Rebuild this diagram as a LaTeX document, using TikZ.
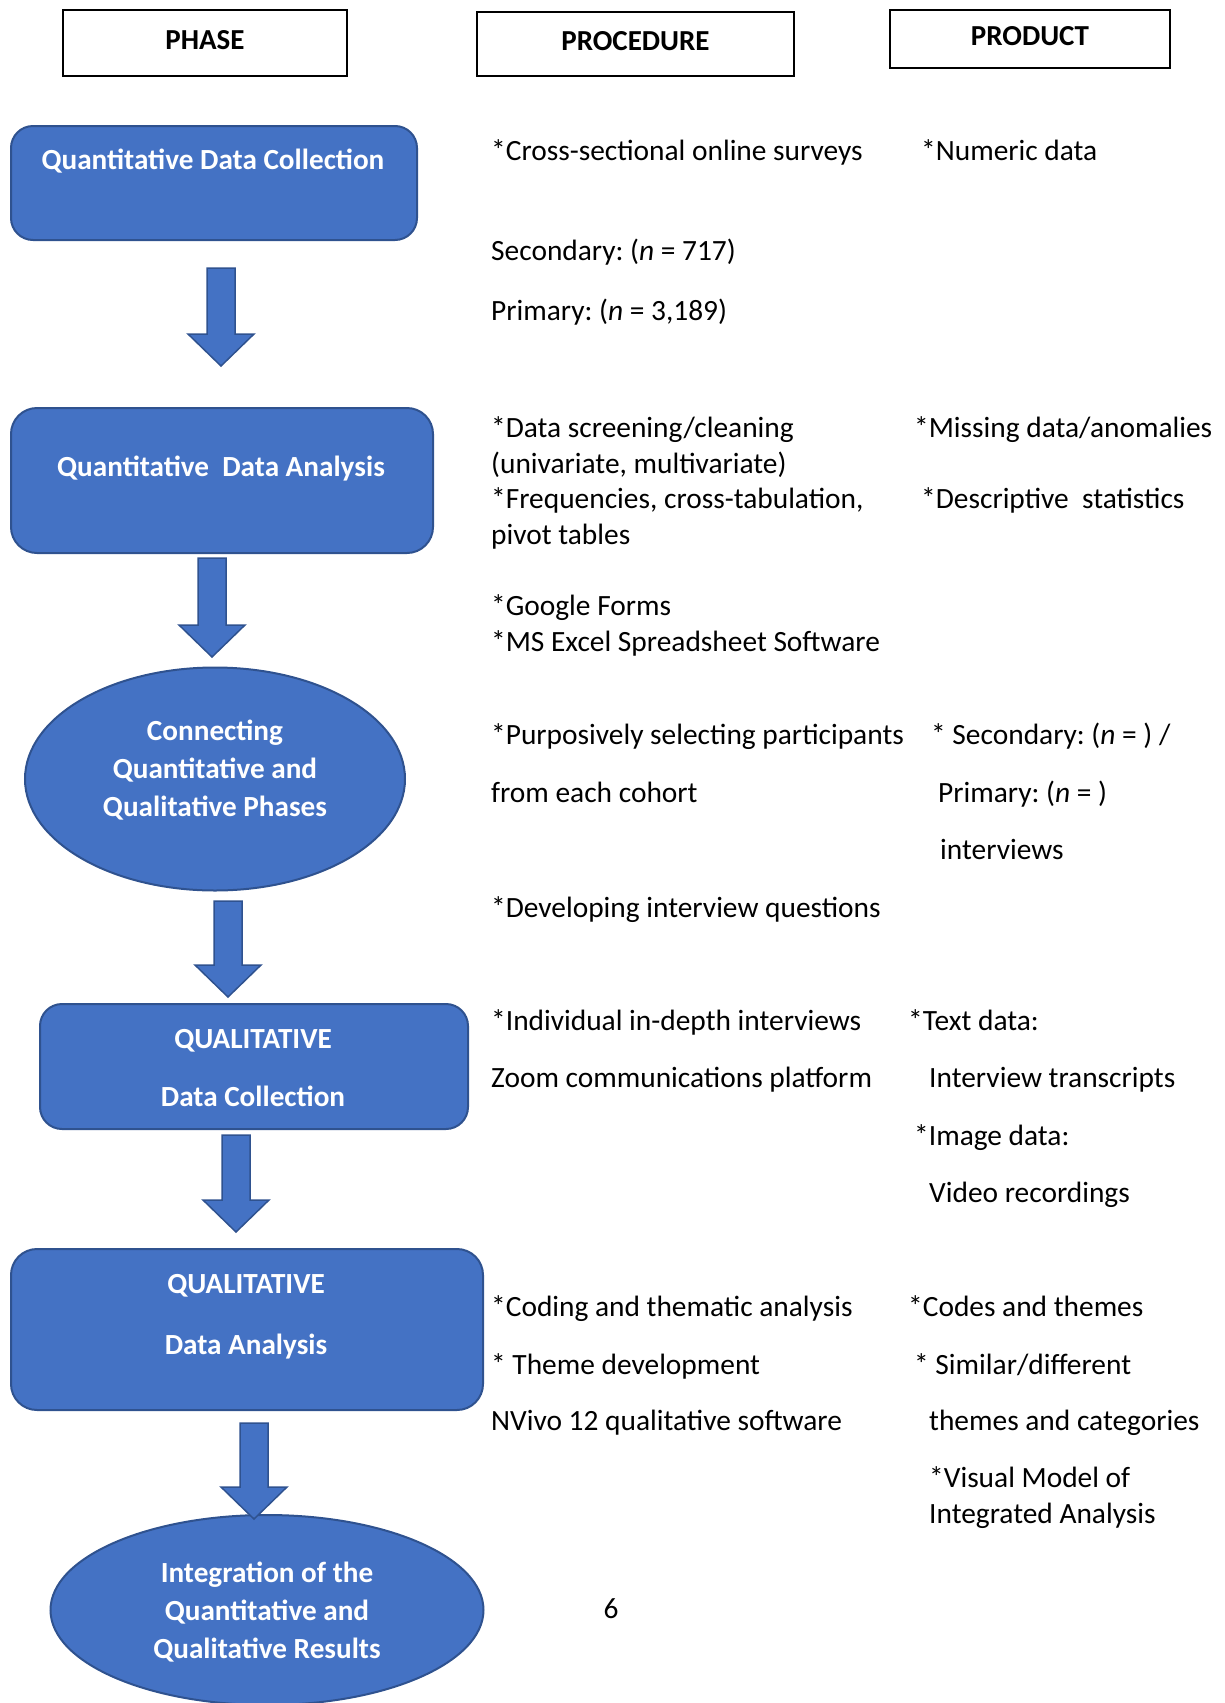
\documentclass[tikz,border=0pt]{standalone}
\usepackage{fontspec}
\setmainfont{Carlito}
\frenchspacing
\usetikzlibrary{shapes.geometric,calc,positioning}
\definecolor{phaseblue}{HTML}{4472C4}
\definecolor{phaseedge}{HTML}{2F528F}
\tikzset{
    headbox/.style={
        draw,
        line width=2pt,
        inner sep=0pt,
        anchor=north west,
        text depth=6pt,
        font=\bfseries\fontsize{29}{35}\selectfont
    },
    phasebox/.style={
        draw=phaseedge,
        fill=phaseblue,
        line width=2pt,
        rounded corners=22pt,
        inner sep=0pt,
        anchor=north west
    },
    phaseoval/.style={
        ellipse,
        draw=phaseedge,
        fill=phaseblue,
        line width=2pt,
        inner sep=0pt
    },
    phasetext/.style={
        text=white,
        align=center,
        inner sep=0pt,
        font=\bfseries\fontsize{29.2}{38}\selectfont
    },
    coltext/.style={
        anchor=base west,
        inner sep=0pt,
        font=\fontsize{29.4}{35}\selectfont
    },
    blockarrow/.style={
        draw=phaseedge,
        fill=phaseblue,
        line width=1.5pt
    }
}
\newcommand{\phasearrow}[2]{%
  \path[blockarrow] let \p1=(#1), \p2=(#2) in
    (\x1-14pt,\y1) -- (\x1+14pt,\y1) -- (\x1+14pt,\y2+32pt) -- (\x1+33pt,\y2+32pt)
    -- (\x2,\y2) -- (\x1-33pt,\y2+32pt) -- (\x1-14pt,\y2+32pt) -- cycle;}

\begin{document}
\begin{tikzpicture}[x=1pt,y=-1pt]
  \useasboundingbox (0,0) rectangle (1225,1703);

  % column heads
  \node[headbox, minimum width=284pt, minimum height=66pt] (phase) at (62,9) {PHASE};
  \node[headbox, minimum width=317pt, minimum height=64pt] (proc) at (476,11) {PROCEDURE};
  \node[headbox, minimum width=280pt, minimum height=58pt] (prod) at (889,9) {PRODUCT};

  % phases
  \node[phasebox, minimum width=406pt, minimum height=114pt] (qncoll) at (10,125) {};
  \node[phasetext] (qncolltxt) at (213,161) {Quantitative Data Collection};
  \node[phasebox, minimum width=422pt, minimum height=145pt, rounded corners=26pt] (qnana) at (10,407) {};
  \node[phasetext] (qnanatxt) at (221,469) {Quantitative\ \ Data Analysis};
  \node[phaseoval, minimum width=380pt, minimum height=223pt] (conn) at (215,779) {};
  \node[phasetext] (conntxt) at (215,770) {Connecting\\Quantitative and\\Qualitative Phases};
  \node[phasebox, minimum width=428pt, minimum height=125pt] (qlcoll) at (39,1003) {};
  \node[phasetext, font=\bfseries\fontsize{29.2}{58}\selectfont] (qlcolltxt) at (253,1068) {QUALITATIVE\\Data Collection};
  \node[phasebox, minimum width=472pt, minimum height=161pt, rounded corners=26pt] (qlana) at (10,1248) {};
  \node[phasetext, font=\bfseries\fontsize{29.2}{61}\selectfont] (qlanatxt) at (246,1317) {QUALITATIVE\\Data Analysis};
  \node[phaseoval, minimum width=433pt, minimum height=190pt] (integ) at (267,1610) {};
  \node[phasetext] (integtxt) at (267,1612) {Integration of the\\Quantitative and\\Qualitative Results};

  % arrows between phases
  \coordinate (a1t) at (221,268);  \coordinate (a1b) at (221,366);
  \coordinate (a2t) at (212,558);  \coordinate (a2b) at (212,657);
  \coordinate (a3t) at (228,901);  \coordinate (a3b) at (228,997);
  \coordinate (a4t) at (236,1135); \coordinate (a4b) at (236,1232);
  \coordinate (a5t) at (254,1423); \coordinate (a5b) at (254,1519);
  \foreach \s/\t in {a1t/a1b,a2t/a2b,a3t/a3b,a4t/a4b,a5t/a5b}
    \phasearrow{\s}{\t};

  % procedure
  \node[coltext] (p1) at (491,160) {*Cross-sectional online surveys};
  \node[coltext] (p2) at (491,260) {Secondary: (\textit{n} = 717)};
  \node[coltext] (p3) at (491,320) {Primary: (\textit{n} = 3,189)};
  \node[coltext] (p4) at (491,437) {*Data screening/cleaning};
  \node[coltext] (p5) at (491,473) {(univariate, multivariate)};
  \node[coltext] (p6) at (491,508) {*Frequencies, cross-tabulation,};
  \node[coltext] (p7) at (491,544) {pivot tables};
  \node[coltext] (p8) at (491,615) {*Google Forms};
  \node[coltext] (p9) at (491,651) {*MS Excel Spreadsheet Software};
  \node[coltext] (p10) at (491,744) {*Purposively selecting participants};
  \node[coltext] (p11) at (491,802) {from each cohort};
  \node[coltext] (p12) at (491,917) {*Developing interview questions};
  \node[coltext] (p13) at (491,1030) {*Individual in-depth interviews};
  \node[coltext] (p14) at (491,1087) {Zoom communications platform};
  \node[coltext] (p15) at (491,1316) {*Coding and thematic analysis};
  \node[coltext] (p16) at (491,1374) {* Theme development};
  \node[coltext] (p17) at (491,1430) {NVivo 12 qualitative software};

  % product
  \node[coltext] (r1) at (921,160) {*Numeric data};
  \node[coltext] (r2) at (914,437) {*Missing data/anomalies};
  \node[coltext] (r3) at (921,508) {*Descriptive\ \ statistics};
  \node[coltext] (r4) at (931,744) {* Secondary: (\textit{n} = ) /};
  \node[coltext] (r5) at (938,802) {Primary: (\textit{n} = )};
  \node[coltext] (r6) at (940,859) {interviews};
  \node[coltext] (r7) at (908,1030) {*Text data:};
  \node[coltext] (r8) at (929,1087) {Interview transcripts};
  \node[coltext] (r9) at (914,1145) {*Image data:};
  \node[coltext] (r10) at (929,1202) {Video recordings};
  \node[coltext] (r11) at (908,1316) {*Codes and themes};
  \node[coltext] (r12) at (914,1374) {* Similar/different};
  \node[coltext] (r13) at (929,1430) {themes and categories};
  \node[coltext] (r14) at (929,1487) {*Visual Model of};
  \node[coltext] (r15) at (929,1523) {Integrated Analysis};

  \node[font=\fontsize{29.4}{35}\selectfont] (pagenum) at (611,1609) {6};
\end{tikzpicture}
\end{document}
